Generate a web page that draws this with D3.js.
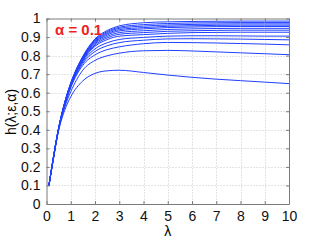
<!DOCTYPE html>
<meta charset="utf-8">
<head>
    <title>h(lambda) curves</title>
    <script type="text/javascript" src="https://cdn.jsdelivr.net/npm/d3@7"></script>
    <style>
        body { margin: 0; background: #fff; }
        text { font-family: "Liberation Sans", Arial, sans-serif; }
    </style>
</head>
<body>
<div id="chart"></div>
<script>
    // lambda sample points (shared by all curves)
    var lambdas = [0.1, 0.25, 0.5, 0.75, 1, 1.5, 2, 2.5, 3, 4, 5, 6, 7, 8, 9, 10];

    // curves, top to bottom
    var c1  = [0.10,0.225,0.410,0.548,0.652,0.797,0.890,0.935,0.960,0.977,0.982,0.984,0.985,0.986,0.986,0.986];
    var c2  = [0.10,0.225,0.410,0.547,0.651,0.794,0.885,0.929,0.953,0.967,0.973,0.976,0.977,0.978,0.978,0.978];
    var c3  = [0.10,0.224,0.409,0.546,0.650,0.791,0.880,0.923,0.947,0.959,0.965,0.968,0.970,0.971,0.971,0.971];
    var c4  = [0.10,0.224,0.409,0.545,0.648,0.788,0.875,0.917,0.940,0.951,0.958,0.961,0.963,0.964,0.964,0.964];
    var c5  = [0.10,0.223,0.408,0.544,0.646,0.785,0.870,0.911,0.933,0.944,0.951,0.954,0.956,0.957,0.957,0.957];
    var c6  = [0.10,0.223,0.408,0.542,0.644,0.781,0.864,0.903,0.924,0.934,0.941,0.944,0.946,0.947,0.947,0.947];
    var c7  = [0.10,0.222,0.407,0.541,0.642,0.777,0.857,0.895,0.915,0.924,0.931,0.934,0.936,0.937,0.937,0.937];
    var c8  = [0.10,0.222,0.407,0.540,0.640,0.773,0.850,0.886,0.905,0.913,0.920,0.924,0.925,0.926,0.926,0.926];
    var c9  = [0.10,0.221,0.406,0.537,0.636,0.766,0.836,0.869,0.887,0.898,0.905,0.907,0.907,0.906,0.905,0.905];
    var c10 = [0.10,0.220,0.405,0.534,0.632,0.758,0.822,0.853,0.870,0.883,0.890,0.891,0.890,0.889,0.887,0.885];
    var c11 = [0.10,0.219,0.403,0.530,0.627,0.748,0.804,0.832,0.847,0.864,0.871,0.870,0.868,0.865,0.862,0.858];
    var c12 = [0.10,0.217,0.400,0.521,0.605,0.722,0.774,0.799,0.813,0.826,0.828,0.825,0.820,0.815,0.810,0.805];
    var c13 = [0.10,0.214,0.395,0.505,0.578,0.664,0.704,0.718,0.721,0.709,0.695,0.683,0.673,0.665,0.657,0.649];
    var curves = [c1, c2, c3, c4, c5, c6, c7, c8, c9, c10, c11, c12, c13];

    var xTicks = [0, 1, 2, 3, 4, 5, 6, 7, 8, 9, 10];
    var yTicks = [0, 0.1, 0.2, 0.3, 0.4, 0.5, 0.6, 0.7, 0.8, 0.9, 1];

    var w = 319, h = 240;
    var padL = 46.5, padR = 289, padT = 18.5, padB = 204;

    var svg = d3.select("#chart").append("svg")
        .attr("width", w).attr("height", h);

    var x = d3.scaleLinear().domain([0, 10]).range([padL, padR]);
    var y = d3.scaleLinear().domain([0, 1]).range([padB, padT]);

    // grid
    var grid = svg.append("g").attr("stroke", "#c8c8c8").attr("stroke-dasharray", "1,2").attr("stroke-width", 1);
    grid.selectAll("line.gx").data(xTicks.slice(1, -1)).enter().append("line")
        .attr("x1", d => Math.round(x(d)) + 0.5).attr("x2", d => Math.round(x(d)) + 0.5)
        .attr("y1", padT).attr("y2", padB);
    grid.selectAll("line.gy").data(yTicks.slice(1, -1)).enter().append("line")
        .attr("y1", d => Math.round(y(d)) + 0.5).attr("y2", d => Math.round(y(d)) + 0.5)
        .attr("x1", padL).attr("x2", padR);

    // curves
    var line = d3.line()
        .x((d, i) => x(lambdas[i]))
        .y(d => y(d))
        .curve(d3.curveMonotoneX);
    svg.append("g").selectAll("path").data(curves).enter().append("path")
        .attr("d", line)
        .attr("fill", "none")
        .attr("stroke", "#2040ff")
        .attr("stroke-width", 1);

    // axes (box with inward ticks on all sides)
    var tk = -3;
    svg.append("g").attr("transform", "translate(0," + padB + ")")
        .call(d3.axisBottom(x).tickValues(xTicks).tickSizeInner(tk).tickSizeOuter(0).tickPadding(7).tickFormat(d3.format("d")));
    svg.append("g").attr("transform", "translate(0," + padT + ")")
        .call(d3.axisTop(x).tickValues(xTicks).tickSizeInner(tk).tickSizeOuter(0).tickFormat(""));
    svg.append("g").attr("transform", "translate(" + padL + ",0)")
        .call(d3.axisLeft(y).tickValues(yTicks).tickSizeInner(tk).tickSizeOuter(0).tickPadding(6).tickFormat(d => d === 0 || d === 1 ? d3.format("d")(d) : d3.format(".1f")(d)));
    svg.append("g").attr("transform", "translate(" + padR + ",0)")
        .call(d3.axisRight(y).tickValues(yTicks).tickSizeInner(tk).tickSizeOuter(0).tickFormat(""));

    svg.selectAll(".domain").attr("stroke", "#7a7a7a");
    svg.selectAll(".tick line").attr("stroke", "#7a7a7a");
    svg.selectAll(".tick text").attr("font-size", 14).attr("fill", "#111")
        .attr("font-family", "Liberation Sans, Arial, sans-serif");

    // labels
    svg.append("text").attr("x", x(5)).attr("y", 236)
        .attr("text-anchor", "middle").attr("font-size", 14).text("λ");
    svg.append("text").attr("transform", "translate(16,112) rotate(-90)")
        .attr("text-anchor", "middle").attr("font-size", 14).text("h(λ;ε,α)");
    svg.append("text").attr("x", 55).attr("y", 35)
        .attr("font-size", 15).attr("font-weight", "bold").attr("fill", "#f01e1e")
        .text("α = 0.1");
</script>
</body>
</html>
